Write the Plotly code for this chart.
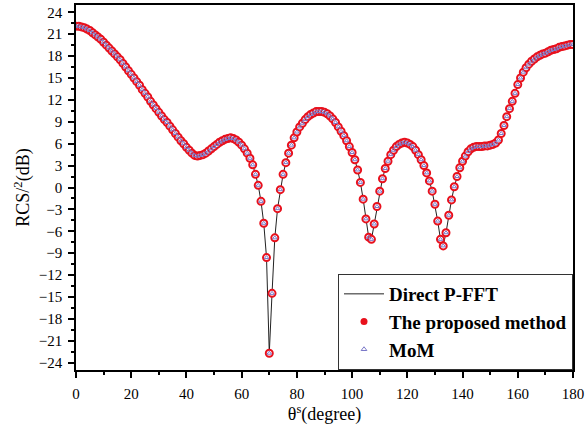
import plotly.graph_objects as go

theta = list(range(0, 181))
rcs_db = [
    22.1, 22.1, 22.0, 21.9, 21.7, 21.5, 21.2, 20.9, 20.6, 20.3,
    19.9, 19.5, 19.1, 18.7, 18.3, 17.9, 17.5, 17.0, 16.5, 16.0,
    15.5, 15.0, 14.5, 14.0, 13.4, 12.9, 12.4, 11.8, 11.3, 10.8,
    10.3, 9.8, 9.3, 8.9, 8.4, 7.9, 7.4, 6.9, 6.4, 6.0,
    5.5, 5.1, 4.7, 4.4, 4.3, 4.4, 4.5, 4.7, 5.0, 5.3,
    5.6, 5.9, 6.2, 6.4, 6.6, 6.7, 6.8, 6.7, 6.5, 6.2,
    5.8, 5.3, 4.7, 4.0, 3.1, 1.8, 0.3, -1.9, -4.9, -9.6,
    -22.7, -14.5, -6.9, -2.9, -0.3, 1.8, 3.4, 4.7, 5.8, 6.8,
    7.6, 8.3, 8.8, 9.3, 9.7, 10.0, 10.2, 10.4, 10.4, 10.4,
    10.3, 10.1, 9.8, 9.4, 8.9, 8.3, 7.7, 7.1, 6.4, 5.6,
    4.8, 3.8, 2.4, 0.7, -1.6, -4.3, -6.8, -7.1, -5.0, -2.6,
    -0.5, 1.2, 2.6, 3.6, 4.5, 5.1, 5.6, 5.9, 6.1, 6.2,
    6.1, 5.9, 5.6, 5.1, 4.5, 3.8, 3.0, 2.0, 0.9, -0.5,
    -2.3, -4.6, -7.1, -8.0, -6.2, -3.8, -1.7, 0.1, 1.5, 2.7,
    3.6, 4.3, 4.9, 5.3, 5.5, 5.6, 5.6, 5.6, 5.7, 5.7,
    5.8, 5.9, 6.1, 6.5, 7.4, 8.5, 9.7, 10.8, 11.8, 12.9,
    14.1, 15.0, 15.8, 16.4, 16.9, 17.3, 17.6, 17.9, 18.1, 18.3,
    18.4, 18.6, 18.8, 18.9, 19.0, 19.2, 19.3, 19.4, 19.5, 19.6,
    19.6,
]
pfft_db = rcs_db
proposed_db = rcs_db
mom_db = rcs_db

x_ticks = [0, 20, 40, 60, 80, 100, 120, 140, 160, 180]
y_ticks = [24, 21, 18, 15, 12, 9, 6, 3, 0, -3, -6, -9, -12, -15, -18, -21, -24]

FONT = "Liberation Serif"
RED = "#e8101c"
BLUE = "#7a78c8"

fig = go.Figure()
fig.add_trace(go.Scatter(x=theta, y=pfft_db, mode="lines",
                         line=dict(color="#222222", width=1),
                         name="Direct P-FFT"))
fig.add_trace(go.Scatter(x=theta, y=proposed_db, mode="markers",
                         marker=dict(symbol="circle", size=7, color="white",
                                     line=dict(color=RED, width=2)),
                         showlegend=False, name="The proposed method"))
fig.add_trace(go.Scatter(x=theta, y=mom_db, mode="markers",
                         marker=dict(symbol="triangle-up-open", size=4, color=BLUE,
                                     line=dict(color=BLUE, width=1)),
                         showlegend=False, name="MoM"))
# legend entries
fig.add_trace(go.Scatter(x=[None], y=[None], mode="markers",
                         marker=dict(symbol="circle", size=7, color=RED),
                         name="The proposed method"))
fig.add_trace(go.Scatter(x=[None], y=[None], mode="markers",
                         marker=dict(symbol="triangle-up-open", size=5, color=BLUE,
                                     line=dict(width=1)),
                         name="MoM"))

axis_common = dict(showline=True, linecolor="black", linewidth=1.5, mirror=True,
                   ticks="outside", ticklen=6, tickwidth=1.5, tickcolor="black",
                   showgrid=False, zeroline=False, ticklabeloverflow="allow",
                   ticklabelstandoff=3,
                   tickfont=dict(family=FONT, size=15, color="black"))

fig.update_xaxes(range=[0, 180], tickvals=x_ticks,
                 minor=dict(dtick=10, ticks="outside", ticklen=3, tickwidth=1.5, tickcolor="black"),
                 title=dict(text="θ<sup>s</sup>(degree)", font=dict(family=FONT, size=18, color="black"),
                            standoff=6),
                 **axis_common)
fig.update_yaxes(range=[-25, 25], tickvals=y_ticks,
                 minor=dict(dtick=1.5, ticks="outside", ticklen=3, tickwidth=1.5, tickcolor="black"),
                 title=dict(text="RCS/<sup>2</sup>(dB)", font=dict(family=FONT, size=18, color="black"),
                            standoff=4),
                 **axis_common)

fig.update_layout(
    width=587, height=438,
    margin=dict(l=76, r=11, t=3, b=68),
    plot_bgcolor="white", paper_bgcolor="white",
    legend=dict(x=1, y=0, xanchor="right", yanchor="bottom",
                bgcolor="white", bordercolor="#333333", borderwidth=1,
                font=dict(family=FONT, size=19, color="black", weight="bold"),
                tracegroupgap=0, itemwidth=40),
)

fig.write_html("out.html")
